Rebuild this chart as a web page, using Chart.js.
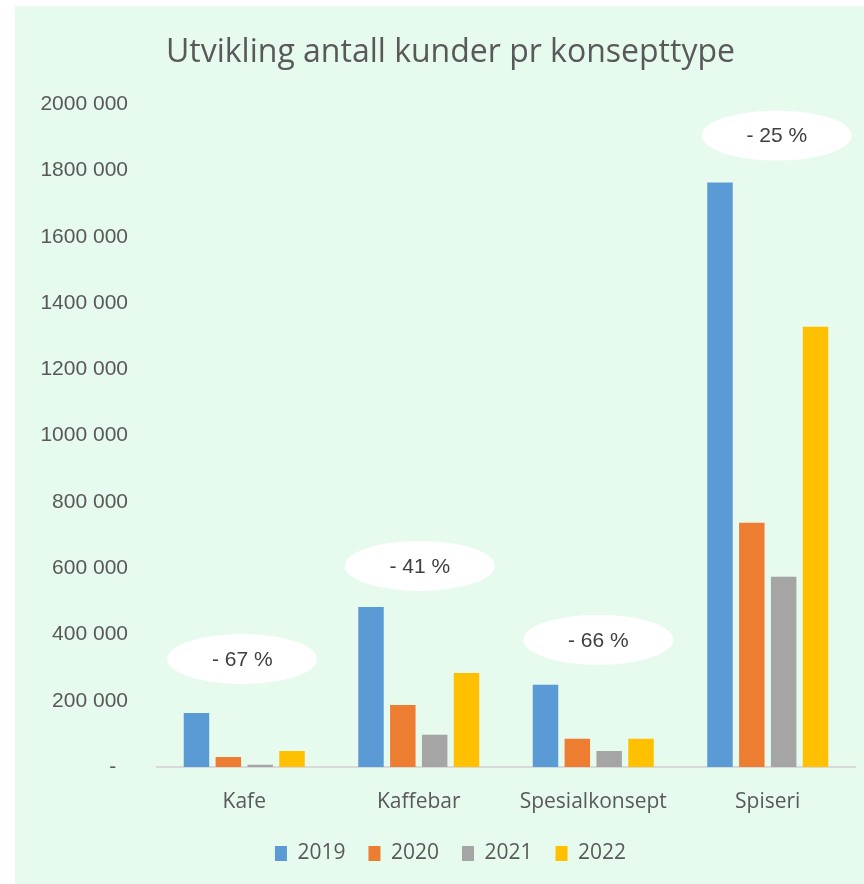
<!DOCTYPE html>
<html>
<head>
<meta charset="utf-8">
<script src="https://cdn.jsdelivr.net/npm/chart.js@4.4.1/dist/chart.umd.min.js"></script>
<style>
  body { margin: 0; background: #ffffff; }
  #wrap { position: absolute; left: 15px; top: 6px; width: 849px; height: 878px; background: #e6faee; overflow: hidden; }
</style>
</head>
<body>
<div id="wrap"><canvas id="chart" width="849" height="868"></canvas></div>
<script>
const categories = ["Kafe", "Kaffebar", "Spesialkonsept", "Spiseri"];
const years = ["2019", "2020", "2021", "2022"];
const values2019 = [163000, 483000, 248000, 1764000];
const values2020 = [30000, 187000, 85000, 737000];
const values2021 = [7000, 97000, 48000, 574000];
const values2022 = [48000, 284000, 85000, 1329000];
const tickLabels = ["-  ", "200 000", "400 000", "600 000", "800 000", "1000 000",
  "1200 000", "1400 000", "1600 000", "1800 000", "2000 000"];
const changeLabels = ["- 67 %", "- 41 %", "- 66 %", "- 25 %"];
const changeLabelY = [326000, 607000, 384000, 1906000];

// small horizontal nudges of the bubbles, in px
const bubbleDx = [-2, 1, 5, 9];
const colors = ["#5b9bd5", "#ed7d31", "#a5a5a5", "#ffc000"];
const series = [values2019, values2020, values2021, values2022];

const bubbles = {
  id: "bubbles",
  afterDatasetsDraw(chart) {
    const ctx = chart.ctx;
    const xs = chart.scales.x, ys = chart.scales.y;
    ctx.save();
    changeLabels.forEach((txt, i) => {
      const cx = xs.getPixelForValue(i) + bubbleDx[i];
      const cy = ys.getPixelForValue(changeLabelY[i]);
      ctx.beginPath();
      ctx.ellipse(cx, cy, 75, 25, 0, 0, Math.PI * 2);
      ctx.fillStyle = "#ffffff";
      ctx.fill();
      ctx.fillStyle = "#404040";
      ctx.font = "21px 'Liberation Sans', Arial, sans-serif";
      ctx.textAlign = "center";
      ctx.textBaseline = "middle";
      ctx.fillText(txt, cx, cy + 1);
    });
    ctx.restore();
  }
};

new Chart(document.getElementById("chart").getContext("2d"), {
  type: "bar",
  data: {
    labels: categories,
    datasets: years.map((y, i) => ({
      label: y,
      data: series[i],
      backgroundColor: colors[i],
      categoryPercentage: 0.73,
      barPercentage: 0.8
    }))
  },
  options: {
    responsive: false,
    animation: false,
    layout: { padding: { left: 22, right: 0, top: 0, bottom: 0 } },
    plugins: {
      title: {
        display: true,
        text: "Utvikling antall kunder pr konsepttype",
        color: "#595959",
        font: { family: "'Open Sans'", size: 32, weight: "normal" },
        padding: { top: 28, bottom: 32 }
      },
      legend: {
        position: "bottom",
        labels: {
          color: "#595959",
          font: { family: "'Open Sans'", size: 21 },
          boxWidth: 12,
          boxHeight: 15,
          padding: 23
        }
      },
      tooltip: { enabled: false }
    },
    scales: {
      x: {
        grid: { display: false },
        border: { display: true, color: "#d9d9d9", width: 2 },
        afterFit(scale) { scale.height = 53; },
        ticks: {
          color: "#595959",
          font: { family: "'Open Sans'", size: 21 },
          padding: 14
        }
      },
      y: {
        min: 0,
        max: 2000000,
        grid: { display: false, drawTicks: false },
        border: { display: false },
        afterFit(scale) { scale.width = 120; },
        ticks: {
          stepSize: 200000,
          color: "#595959",
          font: { family: "'Liberation Sans', Arial, sans-serif", size: 21 },
          padding: 29,
          callback: (v, i) => tickLabels[i]
        }
      },
      // empty right-hand spacer so the plot stops short of the edge
      y2: {
        position: "right",
        grid: { display: false, drawTicks: false },
        border: { display: false },
        ticks: { display: false },
        afterFit(scale) { scale.width = 9; }
      }
    }
  },
  plugins: [bubbles]
});
</script>
</body>
</html>
